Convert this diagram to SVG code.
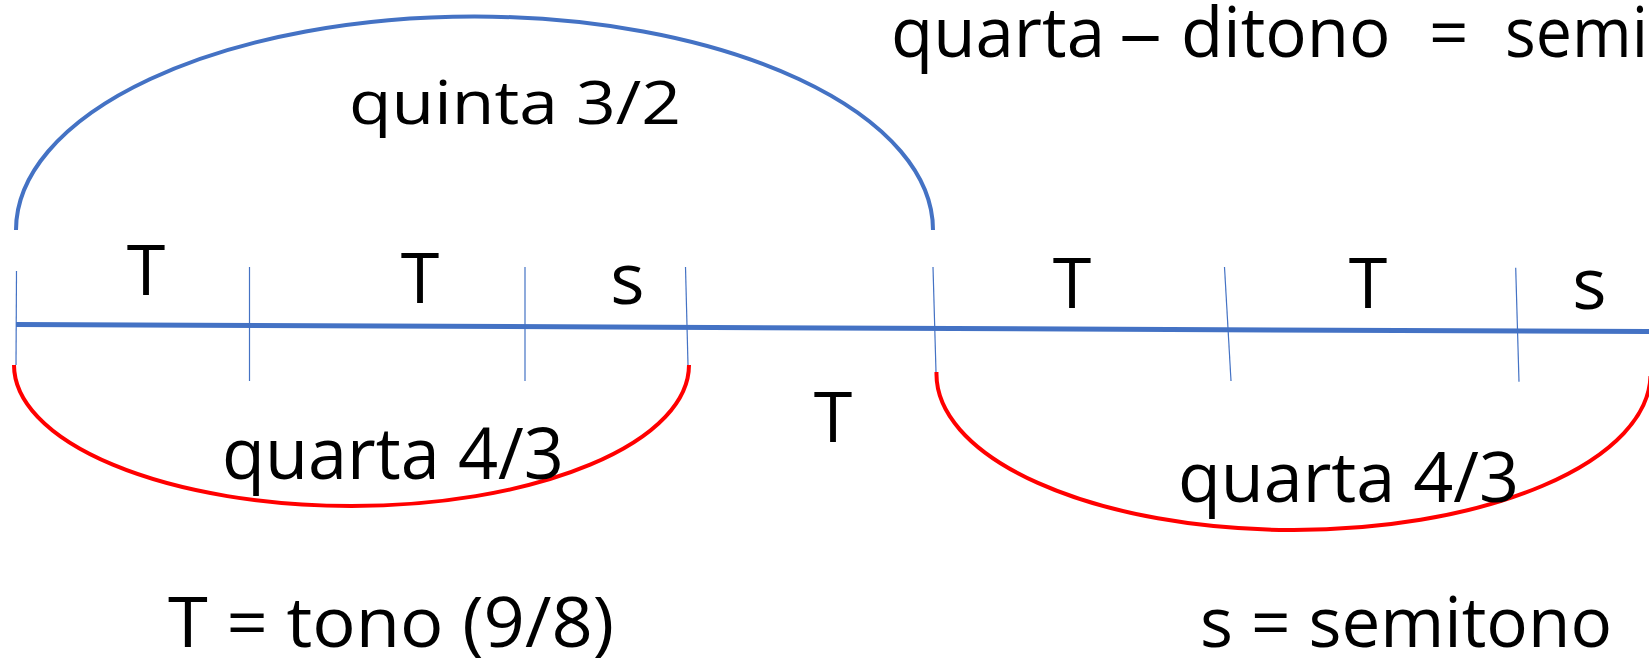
<svg xmlns="http://www.w3.org/2000/svg" width="1649" height="660" viewBox="0 0 1649 660">
<style>
.t{font-family:"Open Sans","Noto Sans","Liberation Sans",sans-serif;fill:#000}
.blue{fill:none;stroke:#4472C4}
.red{fill:none;stroke:#FF0000;stroke-width:4}
.tick{stroke:#4472C4;stroke-width:1.2}
</style>
<rect width="1649" height="660" fill="#fff"/>
<g id="connectors">
<path id="quinta-arc" class="blue" stroke-width="4" d="M16,230 A458.5,213.5 0 0 1 933,230"/>
<path id="scale-line" class="blue" stroke-width="5" d="M16,324.5 L1649,331.5"/>
<path id="quarta-arc-left" class="red" d="M14,365 A337.5,141 0 0 0 689,365"/>
<path id="quarta-arc-right" class="red" d="M936.5,372 A357,156 0 0 0 1650.5,376"/>
<g id="ticks">
<line class="tick" x1="16.5" y1="271" x2="16" y2="365"/>
<line class="tick" x1="249.5" y1="267" x2="249.5" y2="381"/>
<line class="tick" x1="525" y1="267" x2="525" y2="381"/>
<line class="tick" x1="685.5" y1="267" x2="688" y2="365"/>
<line class="tick" x1="933" y1="267" x2="936" y2="372"/>
<line class="tick" x1="1224.5" y1="267" x2="1231" y2="381"/>
<line class="tick" x1="1515.7" y1="267.7" x2="1519" y2="381.7"/>
</g>
</g>
<g id="title" font-size="69">
<text class="t" font-size="69" x="891" y="57">quarta</text>
<text class="t" font-size="69" x="1119" y="57" textLength="43" lengthAdjust="spacingAndGlyphs">–</text>
<text class="t" font-size="69" x="1181" y="57">ditono</text>
<text class="t" font-size="69" x="1429" y="57">=</text>
<text class="t" font-size="69" x="1505" y="57" textLength="143" lengthAdjust="spacingAndGlyphs">semi</text>
</g>
<g id="quinta-label"><text class="t" font-size="60" x="349" y="124" textLength="332" lengthAdjust="spacingAndGlyphs">quinta 3/2</text></g>
<g id="steps">
<text class="t" font-size="70" x="146" y="295" text-anchor="middle">T</text>
<text class="t" font-size="70" x="420" y="303" text-anchor="middle">T</text>
<text class="t" font-size="72" x="627.5" y="304" text-anchor="middle">s</text>
<text class="t" font-size="70" x="1072" y="308" text-anchor="middle">T</text>
<text class="t" font-size="70" x="1368" y="308" text-anchor="middle">T</text>
<text class="t" font-size="72" x="1589.5" y="309" text-anchor="middle">s</text>
<text class="t" font-size="70" x="833" y="442" text-anchor="middle">T</text>
</g>
<g id="quarta-left-label"><text class="t" font-size="72" x="222" y="479" textLength="342" lengthAdjust="spacingAndGlyphs">quarta 4/3</text></g>
<g id="quarta-right-label"><text class="t" font-size="70" x="1178" y="501.7" textLength="341" lengthAdjust="spacingAndGlyphs">quarta 4/3</text></g>
<g id="legend-T"><text class="t" font-size="70" x="168" y="646.7" textLength="446" lengthAdjust="spacingAndGlyphs">T = tono (9/8)</text></g>
<g id="legend-s"><text class="t" font-size="70" x="1200" y="646.7" textLength="412" lengthAdjust="spacingAndGlyphs">s = semitono</text></g>
</svg>
